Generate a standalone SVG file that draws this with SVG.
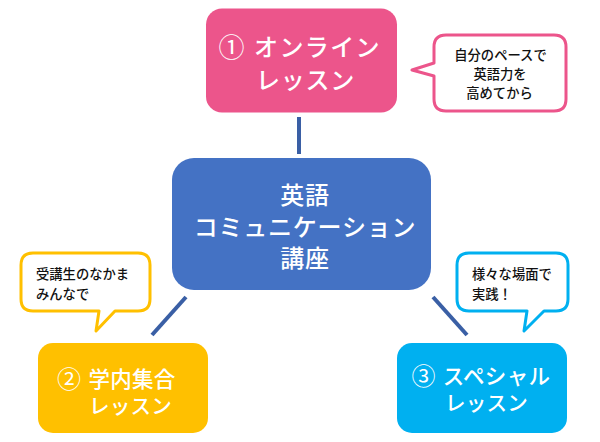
<svg xmlns="http://www.w3.org/2000/svg" width="600" height="442" viewBox="0 0 600 442">
<style>
text{font-family:"Noto Sans CJK JP","Noto Sans",sans-serif;text-anchor:middle}
.big{fill:#fff;font-size:24px;font-weight:500;letter-spacing:.8px}
.mid{fill:#fff;font-size:21.500px;font-weight:500;letter-spacing:.3px}
.kana{fill:#fff;font-size:20.500px;font-weight:500;letter-spacing:.3px}
.num{fill:#fff;font-size:26px;font-weight:400}
.numsm{fill:#fff;font-size:24px;font-weight:400}
.small{fill:#111;font-size:13.300px;font-weight:500}
.left{text-anchor:start}
.conn{stroke:#3A5FA5;stroke-width:4;fill:none}
.call{fill:#fff;stroke-width:3;stroke-linejoin:round}
</style>
<rect width="600" height="442" fill="#fff"/>
<g id="connectors">
<line class="conn" x1="299" y1="117" x2="299" y2="154"/>
<line class="conn" x1="186" y1="297" x2="152" y2="335"/>
<line class="conn" x1="433" y1="297" x2="467" y2="335"/>
</g>
<g id="node-center">
<rect x="172" y="158" width="259" height="132" rx="22" fill="#4472C4"/>
<text class="big" x="305" y="204">英語</text>
<text class="big" x="305" y="236">コミュニケーション</text>
<text class="big" x="305" y="267">講座</text>
</g>
<g id="node-online">
<rect x="206" y="8.500" width="191" height="104" rx="16" fill="#EC558B"/>
<text class="num" x="231.500" y="56.500">①</text>
<text class="big" x="317.500" y="56" style="letter-spacing:1.400px">オンライン</text>
<text class="big" x="305.500" y="89">レッスン</text>
</g>
<g id="node-campus">
<rect x="38" y="343" width="170" height="90" rx="15" fill="#FFC000"/>
<text class="numsm" x="69" y="388">②</text>
<text class="mid" x="132" y="387">学内集合</text>
<text class="kana" x="130.500" y="414">レッスン</text>
</g>
<g id="node-special">
<rect x="397" y="343" width="170" height="90" rx="15" fill="#00B0F0"/>
<text class="numsm" x="423.500" y="385">③</text>
<text class="mid" x="496.500" y="384">スペシャル</text>
<text class="kana" x="486.500" y="411">レッスン</text>
</g>
<g id="callout-online">
<path class="call" stroke="#EC558B" d="M446 35H554Q566 35 566 47V99Q566 111 554 111H446Q434 111 434 99V76L412 70L434 63V47Q434 35 446 35Z"/>
<text class="small" x="500.500" y="60">自分のペースで</text>
<text class="small" x="500" y="79">英語力を</text>
<text class="small" x="499.500" y="98">高めてから</text>
</g>
<g id="callout-campus">
<path class="call" stroke="#FFC000" d="M33 253H138Q150 253 150 265V299Q150 311 138 311H115L96 331L99 311H33Q21 311 21 299V265Q21 253 33 253Z"/>
<text class="small left" x="36" y="279">受講生のなかま</text>
<text class="small left" x="36" y="299">みんなで</text>
</g>
<g id="callout-special">
<path class="call" stroke="#00B0F0" d="M469 253H556Q568 253 568 265V299Q568 311 556 311H544L524 331L527 311H469Q457 311 457 299V265Q457 253 469 253Z"/>
<text class="small left" x="472" y="279">様々な場面で</text>
<text class="small left" x="472" y="299">実践！</text>
</g>
</svg>
